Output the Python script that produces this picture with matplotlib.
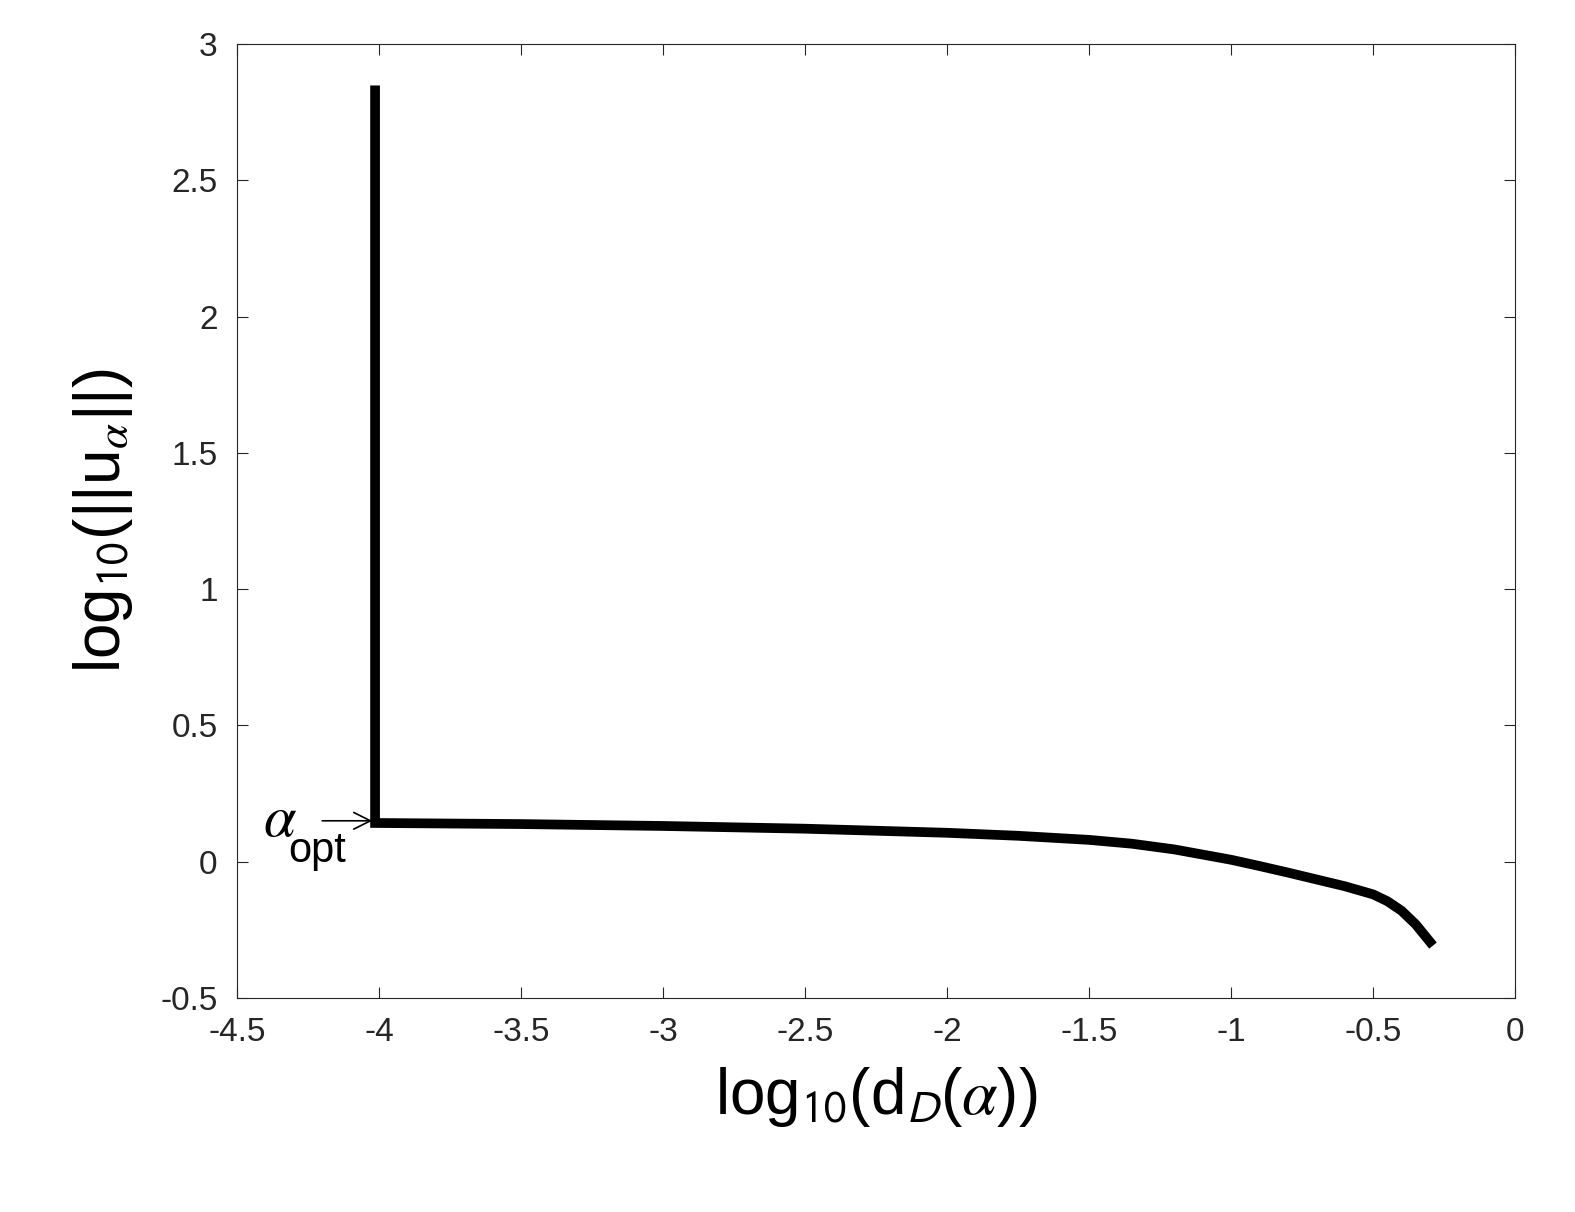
import numpy as np
import matplotlib.pyplot as plt

plt.rcParams['font.family'] = ['Arial', 'Liberation Sans', 'DejaVu Sans']
plt.rcParams['mathtext.fontset'] = 'stix'

# L-curve points
log_d = [-4.014, -4.014, -4.014, -3.5, -3.0, -2.5, -2.0, -1.75, -1.5, -1.35, -1.2,
         -1.0, -0.9, -0.8, -0.7, -0.6, -0.5, -0.45, -0.4, -0.35, -0.3]
log_u = [2.83, 1.0, 0.142, 0.138, 0.131, 0.121, 0.106, 0.095, 0.08, 0.066, 0.045,
         0.007, -0.016, -0.04, -0.065, -0.09, -0.12, -0.145, -0.18, -0.23, -0.294]
alpha_opt = (-4.014, 0.15)

fig = plt.figure(figsize=(15.75, 12.12), dpi=100)
ax = fig.add_axes([0.1505, 0.1766, 0.8115, 0.7871])
ax.plot(log_d, log_u, color='black', linewidth=7, solid_joinstyle='miter')

ax.annotate('', xy=alpha_opt, xytext=(-4.21, 0.15),
            arrowprops=dict(arrowstyle='->', color='black', lw=1.2, mutation_scale=30),
            annotation_clip=False)
ax.text(-4.41, 0.15, r'$\alpha$', fontsize=42, ha='left', va='center')
ax.text(-4.32, 0.04, 'opt', fontsize=30, ha='left', va='center')

ax.set_xlim(-4.5, 0)
ax.set_ylim(-0.5, 3)
ax.set_xticks(np.arange(-4.5, 0.01, 0.5))
ax.set_yticks(np.arange(-0.5, 3.01, 0.5))
ax.set_xticklabels(['-4.5', '-4', '-3.5', '-3', '-2.5', '-2', '-1.5', '-1', '-0.5', '0'])
ax.set_yticklabels(['-0.5', '0', '0.5', '1', '1.5', '2', '2.5', '3'])
ax.tick_params(direction='in', top=True, right=True, length=8, labelsize=24,
               colors='#262626', pad=14)
for s in ax.spines.values():
    s.set_color('#262626')

ax.set_xlabel(r'log$_{\mathsf{10}}$(d$_{\mathsf{D}}$($\alpha$))', fontsize=46, labelpad=12)
ax.set_ylabel(r'log$_{\mathsf{10}}$(||u$_{\alpha}$||)', fontsize=46, labelpad=18)

fig.savefig('out.png', dpi=100)
